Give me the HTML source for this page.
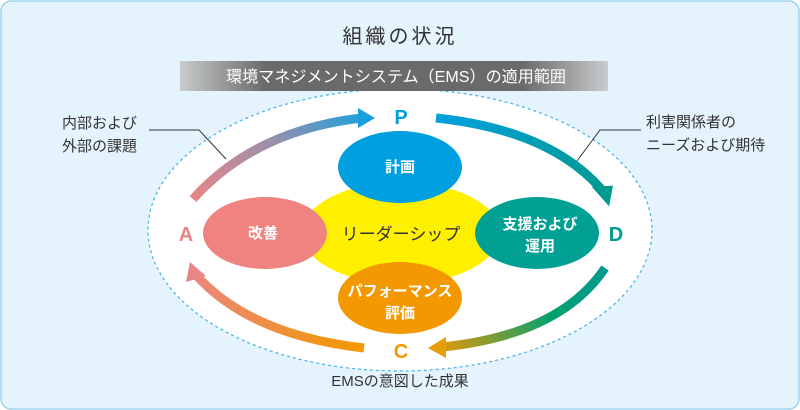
<!DOCTYPE html>
<html><head><meta charset="utf-8"><style>
html,body{margin:0;padding:0;width:800px;height:410px;overflow:hidden;background:#fff}
</style></head><body>
<svg width="800" height="410" xmlns="http://www.w3.org/2000/svg" font-family="Liberation Sans, Noto Sans CJK JP, sans-serif">
<defs>
<linearGradient id="ban" x1="0" x2="1" y1="0" y2="0">
<stop offset="0" stop-color="#c8cbcd"/><stop offset="0.2" stop-color="#6a6a6a"/><stop offset="0.8" stop-color="#6a6a6a"/><stop offset="1" stop-color="#c8cbcd"/></linearGradient>
<linearGradient id="gAP" gradientUnits="userSpaceOnUse" x1="190" y1="200" x2="370" y2="117"><stop offset="0" stop-color="#ea8585"/><stop offset="0.5" stop-color="#9a8fae"/><stop offset="1" stop-color="#18a0dc"/></linearGradient>
<linearGradient id="gPD" gradientUnits="userSpaceOnUse" x1="435" y1="118" x2="605" y2="205"><stop offset="0" stop-color="#00a0e0"/><stop offset="1" stop-color="#009a8e"/></linearGradient>
<linearGradient id="gDC" gradientUnits="userSpaceOnUse" x1="605" y1="268" x2="430" y2="350"><stop offset="0" stop-color="#009a8e"/><stop offset="0.35" stop-color="#00a070"/><stop offset="1" stop-color="#f39800"/></linearGradient>
<linearGradient id="gCA" gradientUnits="userSpaceOnUse" x1="362" y1="348" x2="192" y2="262"><stop offset="0" stop-color="#f39800"/><stop offset="1" stop-color="#ea8585"/></linearGradient>
</defs>
<rect x="1" y="1" width="798" height="408" rx="10" fill="#e5f3fc" stroke="#9fd4f1" stroke-width="1.5"/>
<ellipse cx="400" cy="230" rx="252" ry="141" fill="#fff" stroke="#4fb6ea" stroke-width="1.3" stroke-dasharray="3,3"/>
<text x="400" y="43" text-anchor="middle" font-size="20" fill="#333" letter-spacing="3">組織の状況</text>
<rect x="180" y="61" width="428" height="30" fill="url(#ban)"/>
<text x="396" y="82" text-anchor="middle" font-size="16" fill="#fff" textLength="340" lengthAdjust="spacingAndGlyphs">環境マネジメントシステム（EMS）の適用範囲</text>
<!-- callouts -->
<polyline points="149,130 199,130 226,159" fill="none" stroke="#333" stroke-width="1"/>
<polyline points="641,130 600,130 577,161" fill="none" stroke="#333" stroke-width="1"/>
<text x="62" y="128" font-size="15" fill="#333">内部および</text>
<text x="62" y="151" font-size="15" fill="#333">外部の課題</text>
<text x="646" y="127" font-size="15" fill="#333">利害関係者の</text>
<text x="646" y="150" font-size="15" fill="#333">ニーズおよび期待</text>
<text x="400" y="386" text-anchor="middle" font-size="15" fill="#333">EMSの意図した成果</text>
<!-- arrows -->
<path d="M193,199 Q255,130 362,118" fill="none" stroke="url(#gAP)" stroke-width="9"/>
<polygon points="358,108 375,118 358,128" fill="#18a0dc"/>
<path d="M436,118 Q550,130 602,190" fill="none" stroke="url(#gPD)" stroke-width="9"/>
<polygon points="591,188 612,185 610,206" fill="#009a8e" transform="rotate(5 605 196)"/>
<path d="M605,268 Q560,335 442,347" fill="none" stroke="url(#gDC)" stroke-width="9"/>
<polygon points="446,337 428,348 446,358" fill="#e79c0a"/>
<path d="M364,348 Q250,335 196,275" fill="none" stroke="url(#gCA)" stroke-width="9"/>
<polygon points="186,282 190,262 206,276" fill="#ea8585"/>
<!-- letters -->
<text x="401" y="124" text-anchor="middle" font-size="20" font-weight="bold" fill="#00a0e0">P</text>
<text x="616" y="241" text-anchor="middle" font-size="20" font-weight="bold" fill="#009a8e">D</text>
<text x="401" y="358" text-anchor="middle" font-size="20" font-weight="bold" fill="#f39800">C</text>
<text x="186" y="241" text-anchor="middle" font-size="20" font-weight="bold" fill="#ea8585">A</text>
<!-- center -->
<ellipse cx="401" cy="233" rx="99" ry="51" fill="#fff000"/>
<ellipse cx="400" cy="167" rx="62" ry="36" fill="#00a0e0"/>
<ellipse cx="265" cy="233" rx="62" ry="36" fill="#ee837f"/>
<ellipse cx="537" cy="233" rx="62" ry="36" fill="#00a194"/>
<ellipse cx="400" cy="298" rx="62" ry="36" fill="#f39800"/>
<text x="401" y="240" text-anchor="middle" font-size="17" fill="#333">リーダーシップ</text>
<text x="400" y="172" text-anchor="middle" font-size="15" fill="#fff" font-weight="bold">計画</text>
<text x="263" y="238" text-anchor="middle" font-size="15" fill="#fff" font-weight="bold">改善</text>
<text x="540" y="229" text-anchor="middle" font-size="15" fill="#fff" font-weight="bold">支援および</text>
<text x="540" y="251" text-anchor="middle" font-size="15" fill="#fff" font-weight="bold">運用</text>
<text x="400" y="296" text-anchor="middle" font-size="15" fill="#fff" font-weight="bold">パフォーマンス</text>
<text x="400" y="318" text-anchor="middle" font-size="15" fill="#fff" font-weight="bold">評価</text>
</svg>
</body></html>
